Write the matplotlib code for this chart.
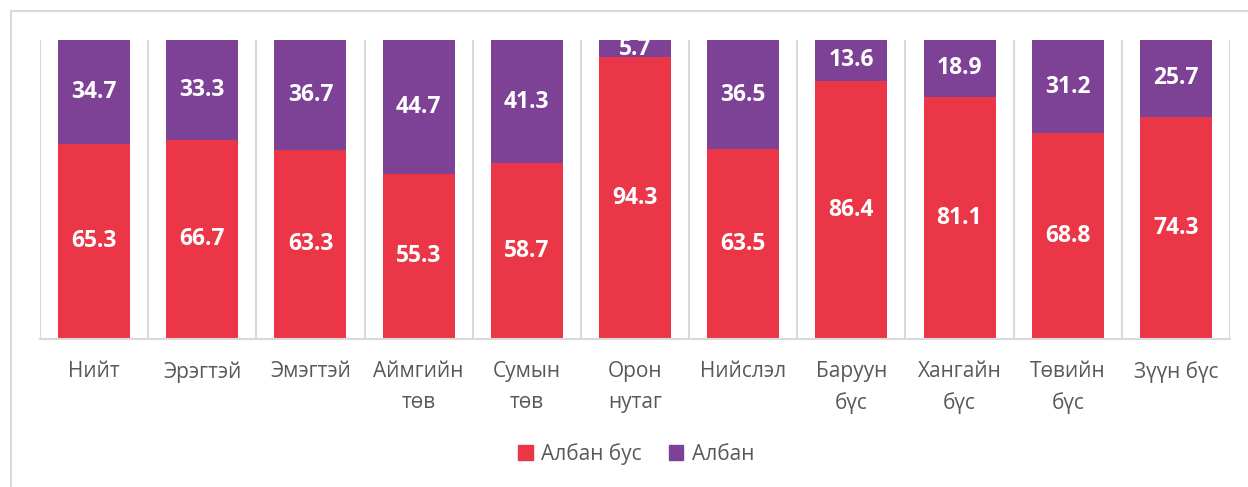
import matplotlib
matplotlib.use("Agg")
import matplotlib.pyplot as plt
from matplotlib.patches import Rectangle, Patch
import numpy as np

plt.rcParams['font.family'] = ['Open Sans', 'DejaVu Sans']

# data
categories = ["Нийт", "Эрэгтэй", "Эмэгтэй", "Аймгийн\nтөв", "Сумын\nтөв", "Орон\nнутаг",
              "Нийслэл", "Баруун\nбүс", "Хангайн\nбүс", "Төвийн\nбүс", "Зүүн бүс"]
alban_bus = [65.3, 66.7, 63.3, 55.3, 58.7, 94.3, 63.5, 86.4, 81.1, 68.8, 74.3]
alban = [34.7, 33.3, 36.7, 44.7, 41.3, 5.7, 36.5, 13.6, 18.9, 31.2, 25.7]
series_names = ["Албан бус", "Албан"]

red = "#EB3648"
purple = "#7D4196"
grid_c = "#D9D9D9"
text_c = "#595959"

W, H = 1248, 487
fig = plt.figure(figsize=(W / 100, H / 100), dpi=100)
ax = fig.add_axes([40 / W, (H - 339) / H, 1190 / W, 299 / H])

x = np.arange(len(categories))
bw = 0.665
b1 = ax.bar(x, alban_bus, bw, color=red, zorder=2)
b2 = ax.bar(x, alban, bw, bottom=alban_bus, color=purple, zorder=2)

for xi, v1, v2 in zip(x, alban_bus, alban):
    ax.text(xi, v1 / 2, f"{v1:.1f}", ha="center", va="center", color="white",
            fontsize=16.5, fontweight="bold", clip_on=True, zorder=3)
    ax.text(xi, v1 + v2 / 2, f"{v2:.1f}", ha="center", va="center", color="white",
            fontsize=16.5, fontweight="bold", clip_on=True, zorder=3)

ax.set_xlim(-0.5, len(categories) - 0.5)
ax.set_ylim(0, 100)
for b in np.arange(-0.5, len(categories), 1.0):
    ax.axvline(b, color=grid_c, lw=1.5, zorder=1)

for s in ["top", "left", "right"]:
    ax.spines[s].set_visible(False)
ax.spines["bottom"].set_color(grid_c)
ax.spines["bottom"].set_linewidth(1.5)
ax.set_yticks([])
ax.set_xticks(x)
ax.set_xticklabels(categories, fontsize=15, color=text_c, linespacing=1.6)
ax.tick_params(axis="x", length=0, pad=16)

handles = [Patch(color=red), Patch(color=purple)]
fig.legend(handles, series_names, loc="center", bbox_to_anchor=(636 / W, 1 - 454 / H),
           ncol=2, frameon=False, fontsize=15, labelcolor=text_c,
           handlelength=0.7, handleheight=0.7, handletextpad=0.4, columnspacing=1.3)

# outer chart frame
fig.patches.append(Rectangle((11 / W, -0.1), 1.2, 1.1 - 11 / H, transform=fig.transFigure,
                             fill=False, edgecolor=grid_c, lw=1.5, clip_on=False))

fig.savefig("out.png", dpi=100)
